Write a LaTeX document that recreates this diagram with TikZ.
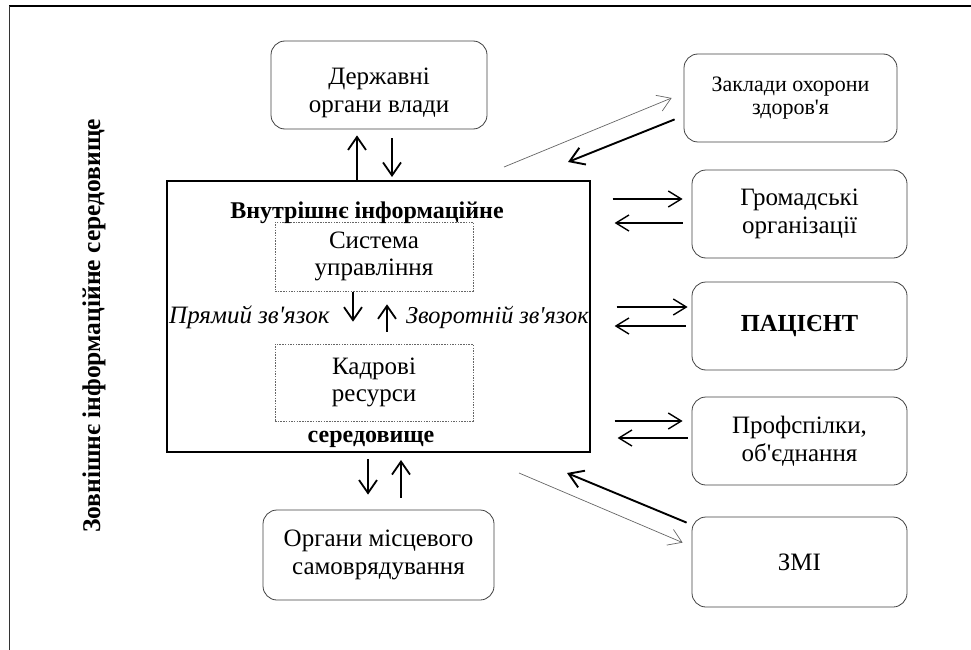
\documentclass[tikz,border=0pt]{standalone}
\usepackage{fontspec}
\setmainfont{Liberation Serif}
\usetikzlibrary{arrows.meta,calc}
\newcommand{\apos}{\textquotesingle}

\begin{document}
\begin{tikzpicture}[x=1pt,y=-1pt,
  every node/.style={font=\fontsize{25}{27.5}\selectfont,align=center,inner sep=0pt},
  rbox/.style={draw=black!75,line width=0.8pt,rounded corners=14pt,minimum width=215pt,minimum height=88pt},
  dbox/.style={draw=black!60,line width=0.6pt,dash pattern=on 1.5pt off 1.2pt,minimum width=198pt},
  varr/.style={line width=1.8pt,-{Straight Barb[length=13pt,width=18pt]}},
  harr/.style={line width=1.4pt,-{Straight Barb[length=13pt,width=16pt]}},
  tharr/.style={line width=1.9pt,-{Straight Barb[length=14pt,width=18pt]}},
  tnarr/.style={line width=0.7pt,black!60,-{Straight Barb[length=13pt,width=17pt]}}]
\useasboundingbox (0,0) rectangle (971,650);
\draw[line width=2pt] (9,6) -- (971,6);
\draw[line width=0.8pt,black!80] (9,6) -- (9,650);

\node(Main) [draw,line width=2pt,minimum width=423pt,minimum height=271pt] at (378.5,316.5) {};
\node(Syst) [dbox,minimum height=69pt] at (374,256.5) {Система\\управління};
\node(Kadr) [dbox,minimum height=77pt] at (374,382.5) {Кадрові\\ресурси};
\node(InL) [anchor=base,font=\fontsize{24}{27}\selectfont\bfseries] at (367,218) {Внутрішнє інформаційне};
\node(InS) [anchor=base,font=\fontsize{24}{27}\selectfont\bfseries] at (371,442) {середовище};
\node(Pr) [anchor=base west,font=\fontsize{25}{27}\selectfont\itshape] at (169,323) {Прямий зв\apos язок};
\node(Zv) [anchor=base west,font=\fontsize{24.3}{27}\selectfont\itshape] at (406,323) {Зворотній зв\apos язок};

\node(Derzh) [rbox,minimum width=216pt] at (379,85) {\rule{0pt}{32pt}Державні\\органи влади};
\node(Orh) [rbox,minimum width=231pt,minimum height=90pt] at (378.5,555) {Органи місцевого\\самоврядування};
\node(Zakl) [rbox,minimum width=213pt,font=\fontsize{22}{23}\selectfont] at (790.5,98) {Заклади охорони\\здоров\apos я};
\node(Hrom) [rbox] at (799.5,214) {Громадські\\організації};
\node(Pats) [rbox,font=\fontsize{24.5}{27}\selectfont\bfseries] at (799.5,326) {ПАЦІЄНТ};
\node(Prof) [rbox] at (799.5,441) {Профспілки,\\об\apos єднання};
\node(ZMI) [rbox,minimum height=90pt] at (799.5,562) {ЗМІ};

\node(Zovn) [rotate=90,font=\fontsize{25.5}{27}\selectfont\bfseries] at (94,326) {Зовнішнє інформаційне середовище};

\draw[varr] ($(Main.north)+(-21.5,0)$) -- ($(Derzh.south)+(-22,6)$);
\draw[varr] ($(Derzh.south)+(13,9)$) -- ($(Main.north)+(13.5,-3)$);
\draw[varr] ($(Syst.south)+(-21,1)$) -- ($(Kadr.north)+(-21,-22)$);
\draw[varr] ($(Kadr.north)+(13,-12)$) -- ($(Syst.south)+(13,13)$);
\draw[varr] ($(Main.south)+(-10.5,6)$) -- ($(Orh.north)+(-10.5,-15)$);
\draw[varr] ($(Orh.north)+(22.5,-12)$) -- ($(Main.south)+(22.5,7)$);

\draw[tnarr] ($(Main.north east)+(-87,-13)$) -- ($(Zakl.west)+(-12,0)$);
\draw[tharr] ($(Zakl.south west)+(-9,-23)$) -- ($(Main.north east)+(-23,-18)$);
\draw[harr] ($(Hrom.west)+(-79,-15)$) -- ($(Hrom.west)+(-9,-15)$);
\draw[harr] ($(Hrom.west)+(-9,9)$) -- ($(Hrom.west)+(-77,9)$);
\draw[harr] ($(Pats.west)+(-75,-19)$) -- ($(Pats.west)+(-4,-19)$);
\draw[harr] ($(Pats.west)+(-6,0)$) -- ($(Pats.west)+(-77,0)$);
\draw[harr] ($(Prof.west)+(-77,-20)$) -- ($(Prof.west)+(-9,-20)$);
\draw[harr] ($(Prof.west)+(-4,-3)$) -- ($(Prof.west)+(-74,-3)$);
\draw[tharr] ($(ZMI.north west)+(-5,6)$) -- ($(Main.south east)+(-24,20)$);
\draw[tnarr] ($(Main.south east)+(-72,20)$) -- ($(ZMI.north west)+(-9,26)$);
\end{tikzpicture}
\end{document}
